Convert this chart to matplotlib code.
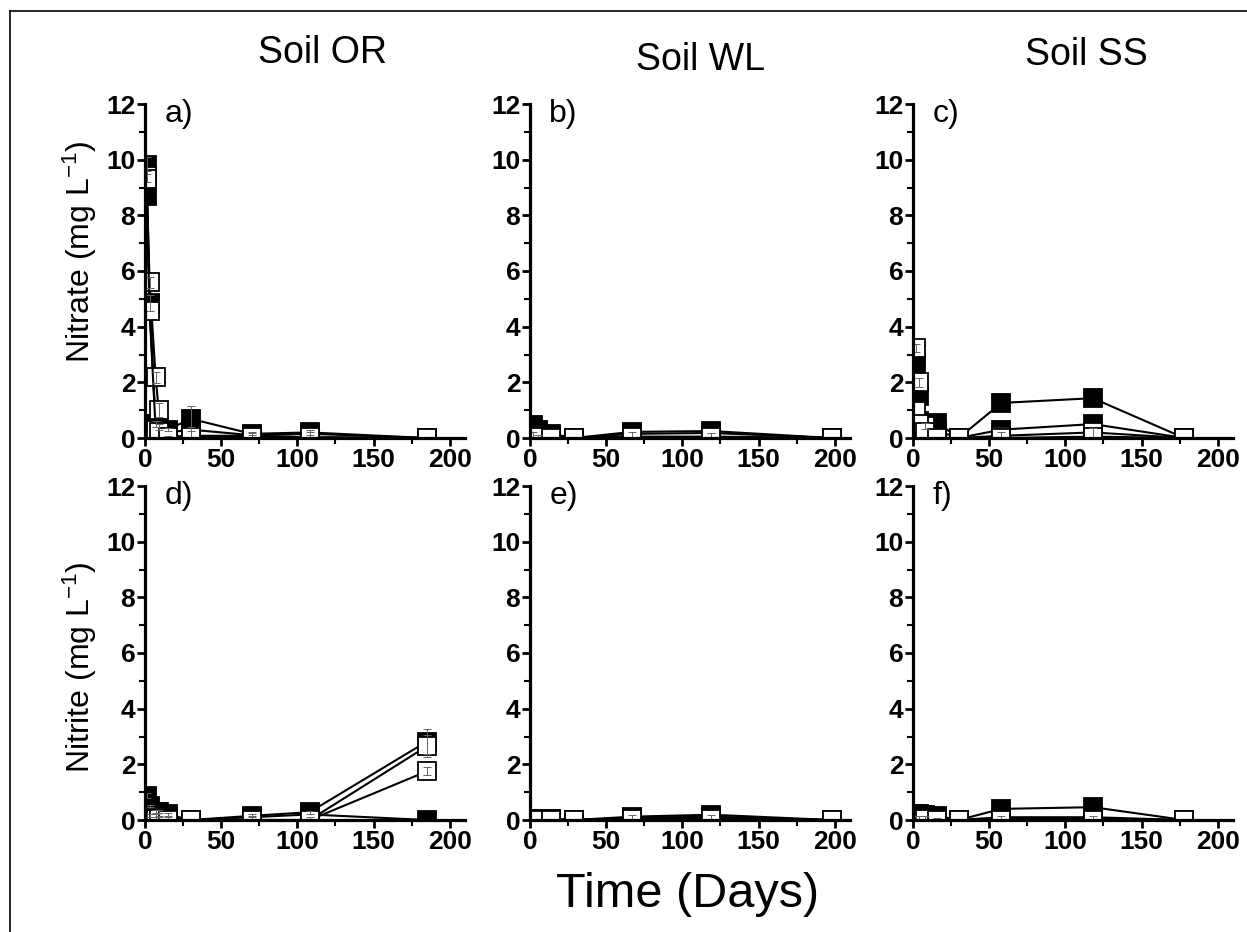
import matplotlib
matplotlib.use("Agg")
import matplotlib.pyplot as plt
from matplotlib.ticker import MultipleLocator
from matplotlib.lines import Line2D

plt.rcParams['font.family'] = ['Liberation Sans', 'DejaVu Sans']
plt.rcParams['mathtext.fontset'] = 'custom'
plt.rcParams['mathtext.rm'] = 'Liberation Sans'
plt.rcParams['mathtext.it'] = 'Liberation Sans:italic'
plt.rcParams['mathtext.bf'] = 'Liberation Sans:bold'

soil_titles = ["Soil OR", "Soil WL", "Soil SS"]
panel_tags = ["a)", "b)", "c)", "d)", "e)", "f)"]
row_labels = ["Nitrate (mg L$^{-1}$)", "Nitrite (mg L$^{-1}$)"]
x_label = "Time (Days)"

# sampling days for each soil
days_or = [1, 3, 7, 9, 15, 30, 70, 108, 185]
days_wl = [2, 5, 14, 29, 67, 119, 198]
days_ss = [2, 4, 8, 16, 30, 58, 118, 178]

# nitrate, soil OR (filled = F1, F2; open = O1, O2)
no3_or_f1 = [9.8, 4.85, 0.5, 0.4, 0.3, 0.69, 0.15, 0.2, 0.0]
no3_or_f2 = [8.7, 4.8, 0.3, 0.3, 0.2, 0.3, 0.1, 0.15, 0.0]
no3_or_o1 = [9.4, 5.6, 2.18, 1.0, 0.05, 0.08, 0.08, 0.03, 0.0]
no3_or_o2 = [9.3, 4.57, 0.3, 0.2, 0.02, 0.02, 0.05, 0.02, 0.0]
no3_or_f1_err = [0.3, 0.3, 0.1, 0.1, 0.05, 0.45, 0.05, 0.1, 0.0]
no3_or_o1_err = [0.2, 0.2, 0.2, 0.25, 0.02, 0.3, 0.1, 0.2, 0.0]

# nitrate, soil WL
no3_wl_f1 = [0.45, 0.3, 0.15, 0.0, 0.22, 0.25, 0.0]
no3_wl_f2 = [0.3, 0.2, 0.1, 0.0, 0.15, 0.18, 0.0]
no3_wl_o1 = [0.1, 0.05, 0.02, 0.0, 0.05, 0.05, 0.0]
no3_wl_o2 = [0.05, 0.02, 0.0, 0.0, 0.02, 0.02, 0.0]
no3_wl_o1_err = [0.1, 0.05, 0.0, 0.0, 0.15, 0.12, 0.0]

# nitrate, soil SS
no3_ss_f1 = [2.7, 1.5, 0.3, 0.55, 0.0, 1.26, 1.43, 0.0]
no3_ss_f2 = [1.47, 0.6, 0.2, 0.25, 0.0, 0.3, 0.5, 0.0]
no3_ss_o1 = [3.24, 2.0, 0.43, 0.0, 0.0, 0.08, 0.2, 0.0]
no3_ss_o2 = [0.98, 0.5, 0.2, 0.0, 0.0, 0.0, 0.05, 0.0]
no3_ss_o1_err = [0.15, 0.15, 0.1, 0.05, 0.0, 0.15, 0.15, 0.0]

# nitrite, soil OR
no2_or_f1 = [0.88, 0.5, 0.3, 0.3, 0.2, 0.0, 0.15, 0.28, 2.82]
no2_or_f2 = [0.6, 0.3, 0.2, 0.2, 0.1, 0.0, 0.1, 0.2, 0.0]
no2_or_o1 = [0.1, 0.1, 0.1, 0.05, 0.0, 0.0, 0.0, 0.0, 2.65]
no2_or_o2 = [0.05, 0.05, 0.05, 0.05, 0.0, 0.0, 0.0, 0.0, 1.75]
no2_or_f1_err = [0.1, 0.05, 0.05, 0.05, 0.05, 0.0, 0.05, 0.05, 0.45]
no2_or_o1_err = [0.1, 0.1, 0.1, 0.1, 0.1, 0.05, 0.15, 0.1, 0.4]
no2_or_o2_err = [0.05, 0.05, 0.05, 0.05, 0.0, 0.0, 0.05, 0.0, 0.15]

# nitrite, soil WL
no2_wl_f1 = [0.05, 0.05, 0.05, 0.0, 0.12, 0.19, 0.0]
no2_wl_f2 = [0.03, 0.03, 0.03, 0.0, 0.08, 0.12, 0.0]
no2_wl_o1 = [0.02, 0.02, 0.0, 0.0, 0.05, 0.05, 0.0]
no2_wl_o2 = [0.0, 0.0, 0.0, 0.0, 0.02, 0.02, 0.0]
no2_wl_o1_err = [0.0, 0.0, 0.0, 0.0, 0.12, 0.12, 0.0]

# nitrite, soil SS
no2_ss_f1 = [0.22, 0.2, 0.18, 0.15, 0.0, 0.4, 0.46, 0.0]
no2_ss_f2 = [0.15, 0.1, 0.1, 0.1, 0.0, 0.1, 0.1, 0.0]
no2_ss_o1 = [0.05, 0.05, 0.05, 0.03, 0.0, 0.03, 0.05, 0.0]
no2_ss_o2 = [0.02, 0.02, 0.02, 0.0, 0.0, 0.0, 0.0, 0.0]
no2_ss_o1_err = [0.1, 0.1, 0.1, 0.05, 0.0, 0.1, 0.1, 0.0]

panels = [
    (days_or, [no3_or_f1, no3_or_f2], [no3_or_o1, no3_or_o2],
     [(no3_or_f1, no3_or_f1_err), (no3_or_o1, no3_or_o1_err)]),
    (days_wl, [no3_wl_f1, no3_wl_f2], [no3_wl_o1, no3_wl_o2],
     [(no3_wl_o1, no3_wl_o1_err)]),
    (days_ss, [no3_ss_f1, no3_ss_f2], [no3_ss_o1, no3_ss_o2],
     [(no3_ss_o1, no3_ss_o1_err)]),
    (days_or, [no2_or_f1, no2_or_f2], [no2_or_o1, no2_or_o2],
     [(no2_or_f1, no2_or_f1_err), (no2_or_o1, no2_or_o1_err),
      (no2_or_o2, no2_or_o2_err)]),
    (days_wl, [no2_wl_f1, no2_wl_f2], [no2_wl_o1, no2_wl_o2],
     [(no2_wl_o1, no2_wl_o1_err)]),
    (days_ss, [no2_ss_f1, no2_ss_f2], [no2_ss_o1, no2_ss_o2],
     [(no2_ss_o1, no2_ss_o1_err)]),
]

W, H = 1247, 932
fig = plt.figure(figsize=(W / 100, H / 100), dpi=100)

col_left = [145, 530, 913]
row_bottom = [438, 820]
ax_w, ax_h = 320, 334

marker_kw = dict(marker='s', markersize=12.5, markeredgewidth=1.3,
                 markeredgecolor='black', color='black', linewidth=1.5)

for i, (days, filled, opened, errs) in enumerate(panels):
    r, c = divmod(i, 3)
    ax = fig.add_axes([col_left[c] / W, 1 - row_bottom[r] / H, ax_w / W, ax_h / H])
    for ys in filled:
        ax.plot(days, ys, markerfacecolor='black', zorder=3, **marker_kw)
    for ys in opened:
        ax.plot(days, ys, markerfacecolor='white', zorder=4, **marker_kw)
    for ys, es in errs:
        ax.errorbar(days, ys, yerr=es, fmt='none', ecolor='#666666',
                    elinewidth=0.7, capsize=3, capthick=0.7, zorder=5)

    ax.set_xlim(0, 210)
    ax.set_ylim(0, 12)
    for side in ('top', 'right'):
        ax.spines[side].set_visible(False)
    for side in ('left', 'bottom'):
        ax.spines[side].set_linewidth(2.3)
        ax.spines[side].set_zorder(6)
    ax.xaxis.set_major_locator(MultipleLocator(50))
    ax.xaxis.set_minor_locator(MultipleLocator(25))
    ax.yaxis.set_major_locator(MultipleLocator(2))
    ax.yaxis.set_minor_locator(MultipleLocator(1))
    ax.tick_params(which='major', direction='out', length=6, width=2,
                   labelsize=19, pad=1)
    ax.tick_params(which='minor', direction='out', length=4, width=1.5)
    for lab in ax.get_xticklabels() + ax.get_yticklabels():
        lab.set_fontweight('bold')
    ax.text(0.06, 0.97, panel_tags[i], transform=ax.transAxes,
            ha='left', va='center', fontsize=23)

# column titles
title_pos = [(322, 63), (700, 70), (1086, 65)]
for (x, y), t in zip(title_pos, soil_titles):
    fig.text(x / W, 1 - y / H, t, ha='center', va='baseline', fontsize=27)

# row labels
for y, t in zip([252, 667], row_labels):
    fig.text(80 / W, 1 - y / H, t, rotation=90, ha='center', va='center',
             fontsize=23)

fig.text(688 / W, 1 - 907 / H, x_label, ha='center', va='baseline', fontsize=35)

# frame around the figure (left and top edges)
fig.add_artist(Line2D([10 / W, 10 / W], [0, 1 - 11 / H], color='black',
                      linewidth=1.2, transform=fig.transFigure))
fig.add_artist(Line2D([10 / W, 1], [1 - 11 / H, 1 - 11 / H], color='black',
                      linewidth=1.2, transform=fig.transFigure))

fig.savefig("out.png", dpi=100, facecolor='white')
